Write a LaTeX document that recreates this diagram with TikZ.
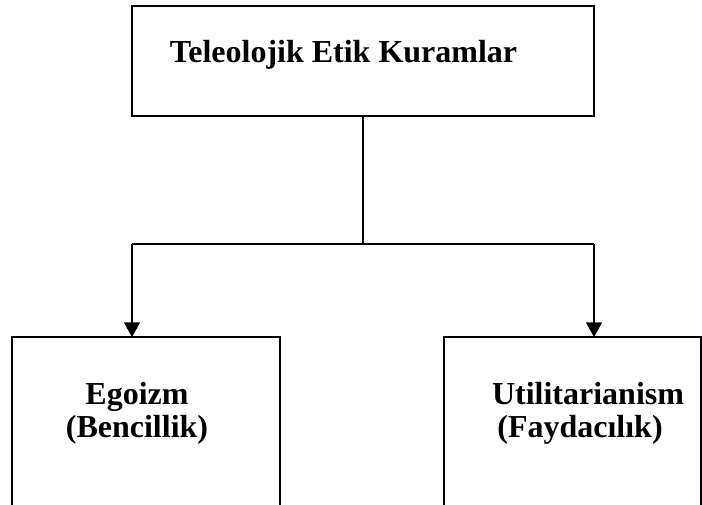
\documentclass[tikz,border=0pt]{standalone}
\usepackage{fontspec}
\setmainfont{Liberation Serif}
\usetikzlibrary{arrows.meta}
\begin{document}
\begin{tikzpicture}[x=0.75pt,y=-0.75pt,
  box/.style={draw=black,line width=1.2pt,fill=none,inner sep=0pt,outer sep=0pt},
  lbl/.style={anchor=base,inner sep=0pt,font=\fontsize{24}{26}\selectfont\bfseries},
  conn/.style={draw=black,line width=1.2pt},
  arr/.style={conn,-{Triangle[width=12pt,length=11pt]}}]
\useasboundingbox (0,0) rectangle (702,504);
\fill[white] (0,0) rectangle (702,504);
\clip (0,0) rectangle (702,504);
\node[box,minimum width=346.5pt,minimum height=82.5pt] (top) at (363,61) {};
\node[box,minimum width=201pt,minimum height=135pt] (left) at (146,427) {};
\node[box,minimum width=192.75pt,minimum height=135pt] (right) at (572.5,427) {};
\node[lbl] (t1) at (343.5,62) {Teleolojik Etik Kuramlar};
\node[lbl] (l1) at (137,404) {Egoizm};
\node[lbl] (l2) at (137,437) {(Bencillik)};
\node[lbl] (r1) at (588,404) {Utilitarianism};
\node[lbl] (r2) at (580,437) {(Faydacılık)};
\coordinate (j) at (363,244);
\coordinate (jl) at (132,244);
\coordinate (jr) at (594,244);
\draw[conn] (top.south -| j) -- (j);
\draw[conn] (jl) -- (jr);
\draw[arr] (jl) -- (jl |- left.north);
\draw[arr] (jr) -- (jr |- right.north);
\end{tikzpicture}
\end{document}
